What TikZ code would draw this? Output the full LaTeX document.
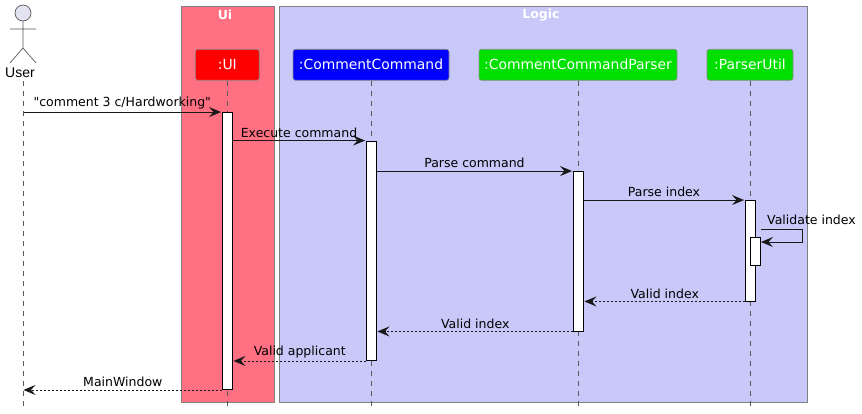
\documentclass[tikz,border=0pt]{standalone}
\usepackage{fontspec}
\setmainfont[Ligatures=TeXOff]{DejaVu Sans}
\newfontfamily\actorfont{Liberation Sans}
\usetikzlibrary{arrows.meta,positioning}
\definecolor{uibox}{HTML}{FF7083}
\definecolor{logicbox}{HTML}{C8C8F9}
\definecolor{ccgreen}{HTML}{00E000}
\definecolor{actorfill}{HTML}{E2E2F0}
\tikzset{
  group/.style={draw=black!50,line width=0.8pt,anchor=north west,inner sep=0pt,minimum height=395.8pt},
  grouptitle/.style={text=white,font=\fontsize{12.5}{14}\selectfont\bfseries,inner sep=0pt},
  part/.style={draw=black!45,rounded corners=2.5pt,text=white,minimum height=31pt,inner sep=0pt,line width=0.7pt,font=\fontsize{13.9}{16}\selectfont},
  lifeline/.style={black!65,line width=0.7pt,dash pattern=on 5pt off 5pt},
  bar/.style={draw=black,fill=white,line width=0.9pt,minimum width=10pt,inner sep=0pt},
  msg/.style={line width=0.9pt,black!90,-{Stealth[length=12pt,width=10pt,inset=4.5pt]}},
  ret/.style={msg,dash pattern=on 2pt off 2pt},
  lbl/.style={above=2.5pt,inner sep=0pt,text=black,font=\fontsize{12.5}{14}\selectfont},
}
\begin{document}
\begin{tikzpicture}[x=1pt,y=-1pt]
\useasboundingbox (0,0) rectangle (862,413);
% boxes
\node[group,fill=uibox,minimum width=92.8pt] (uigroup) at (180.9,5.9) {};
\node[group,fill=logicbox,minimum width=528.2pt] (logicgroup) at (278.9,5.9) {};
\node[grouptitle] (uititle) at (225,15) {Ui};
\node[grouptitle] (logictitle) at (541,15) {Logic};
% actor
\coordinate (head) at (23,13);
\coordinate (neck) at (23,21);
\coordinate (hip) at (23,48);
\draw[black!65,fill=actorfill,line width=0.7pt] (head) circle (8);
\draw[black!65,line width=0.7pt] (neck) -- (hip) (10,29) -- (36,29) (10,63) -- (hip) -- (36,63);
\node[inner sep=0pt,font=\actorfont\fontsize{14}{17}\selectfont] (user) at (20,73) {User};
% participants
\node[part,fill=red,minimum width=64pt] (ui) at (227.3,64.8) {:UI};
\node[part,fill=blue,minimum width=156pt] (cc) at (371,64.8) {:CommentCommand};
\node[part,fill=ccgreen,minimum width=198pt] (ccp) at (578,64.8) {:CommentCommandParser};
\node[part,fill=ccgreen,minimum width=86pt] (pu) at (750,64.8) {:ParserUtil};
% lifelines
\coordinate (userline) at (23.5,81);
\coordinate (userend) at (23.5,407);
\draw[lifeline] (userline) -- (userend);
\foreach \p in {ui,cc,ccp,pu}
  \draw[lifeline] (\p.south) -- (\p.south |- userend);
% activations
\node[bar,minimum height=277pt] (barui) at (227.5,251) {};
\node[bar,minimum height=219.5pt] (barcc) at (371.5,250.75) {};
\node[bar,minimum height=159.5pt] (barccp) at (578.5,251.25) {};
\node[bar,minimum height=100.5pt] (barpu) at (750.5,250.75) {};
\node[bar,minimum height=28pt] (barval) at (755.5,251.5) {};
% calls
\draw[msg] (userline |- barui.north) -- node[lbl] {"comment 3 c/Hardworking"} ([xshift=-1pt]barui.north west);
\draw[msg] (barui.east |- barcc.north) -- node[lbl] {Execute command} ([xshift=-1pt]barcc.north west);
\draw[msg] (barcc.east |- barccp.north) -- node[lbl] {Parse command} ([xshift=-1pt]barccp.north west);
\draw[msg] (barccp.east |- barpu.north) -- node[lbl] {Parse index} ([xshift=-1pt]barpu.north west);
\coordinate (selfout) at (802.5,229.5);
\coordinate (selfback) at (802.5,242);
\draw[msg] (barval.east |- selfout) -- (selfout) -- (selfback) -- (barval.east |- selfback);
\node[lbl,anchor=south,inner sep=0pt] (vallbl) at (811.5,227.5) {Validate index};
% returns
\draw[ret] (barpu.south west) -- node[lbl] {Valid index} ([xshift=0.5pt]barccp.east |- barpu.south);
\draw[ret] (barccp.south west) -- node[lbl] {Valid index} ([xshift=0.5pt]barcc.east |- barccp.south);
\draw[ret] (barcc.south west) -- node[lbl] {Valid applicant} ([xshift=0.5pt]barui.east |- barcc.south);
\draw[ret] (barui.south west) -- node[lbl] {MainWindow} (userline |- barui.south);
\end{tikzpicture}
\end{document}
